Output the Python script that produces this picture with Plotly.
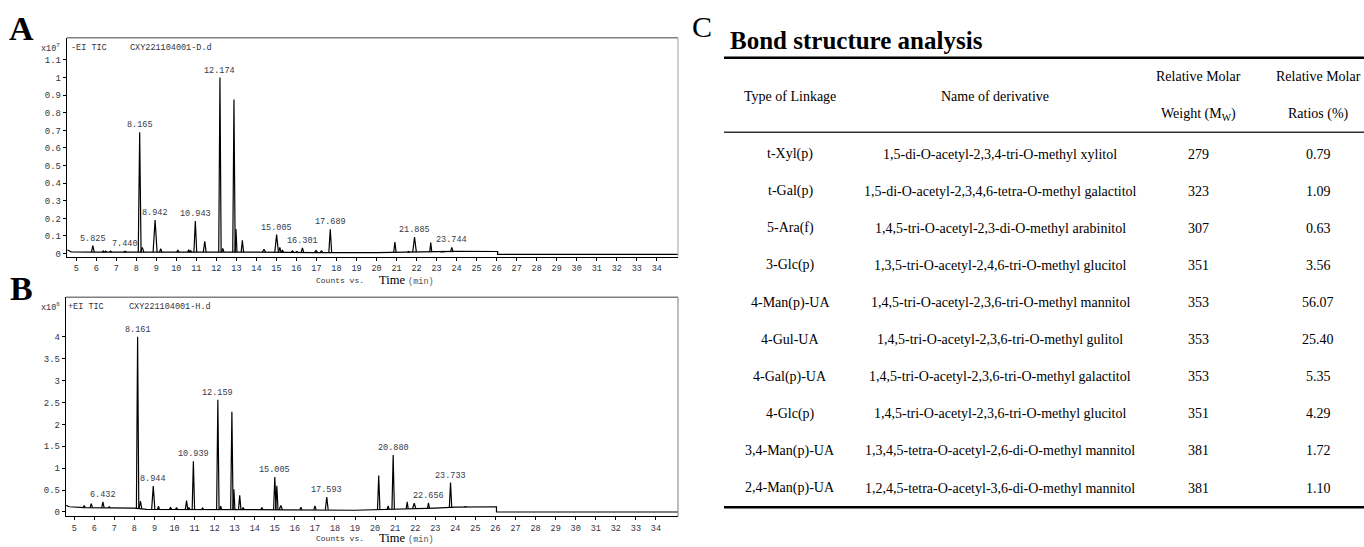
import plotly.graph_objects as go

W, H = 1364, 547
MONO = "Liberation Mono"
SERIF = "Liberation Serif"
TICKC = "#333340"

# ---------------- Chromatogram A (x10^7 counts) ----------------
A_base_t = [4.56, 4.75, 6.0, 8.0, 10.0, 14.0, 17.0, 20.0, 23.0, 24.0, 26.05, 26.05, 35.06]
A_base_y = [0.02, 0.01, 0.008, 0.009, 0.006, 0.008, 0.006, 0.006, 0.011, 0.013, 0.012, -0.005, -0.005]
A_peak_t = [5.83, 6.35, 6.47, 6.72, 7.44, 8.17, 8.30, 8.94, 9.22, 10.08, 10.62, 10.72, 10.95, 11.42,
            12.18, 12.32, 12.88, 12.98, 13.30, 14.38, 15.01, 15.17, 15.30, 15.80, 16.02, 16.30,
            16.98, 17.25, 17.69, 20.92, 21.60, 21.90, 22.71, 23.30, 23.76]
A_peak_h = [0.045, 0.015, 0.014, 0.014, 0.014, 0.69, 0.035, 0.19, 0.028, 0.018, 0.022, 0.016, 0.185, 0.07,
            1.0, 0.03, 0.875, 0.14, 0.075, 0.025, 0.108, 0.035, 0.02, 0.015, 0.012, 0.032,
            0.018, 0.015, 0.138, 0.066, 0.012, 0.094, 0.062, 0.012, 0.035]
A_peak_w = [0.07, 0.05, 0.05, 0.05, 0.07, 0.07, 0.08, 0.10, 0.06, 0.06, 0.06, 0.05, 0.07, 0.07,
            0.06, 0.06, 0.06, 0.05, 0.06, 0.08, 0.09, 0.06, 0.06, 0.06, 0.05, 0.06,
            0.07, 0.06, 0.07, 0.06, 0.05, 0.09, 0.05, 0.10, 0.07]
A_peak_b = [0.008] * len(A_peak_t)
A_label_text = ["5.825", "7.440", "8.165", "8.942", "10.943", "12.174", "15.005", "16.301", "17.689", "21.885", "23.744"]
A_label_idx = [0, 4, 5, 7, 12, 14, 20, 25, 28, 31, 34]
A_ytick_vals = [0, 0.1, 0.2, 0.3, 0.4, 0.5, 0.6, 0.7, 0.8, 0.9, 1.0, 1.1]
A_ytick_text = ["0", "0.1", "0.2", "0.3", "0.4", "0.5", "0.6", "0.7", "0.8", "0.9", "1", "1.1"]

# ---------------- Chromatogram B (x10^6 counts) ----------------
B_base_t = [4.6, 4.75, 5.5, 7.0, 8.0, 8.6, 12.0, 15.5, 19.0, 20.0, 21.0, 23.0, 24.0, 25.0, 26.05, 26.05, 35.1]
B_base_y = [0.15, 0.12, 0.10, 0.10, 0.09, 0.06, 0.06, 0.05, 0.04, 0.05, 0.07, 0.09, 0.11, 0.12, 0.12, 0.0, 0.0]
B_peak_t = [5.50, 5.85, 6.43, 6.75, 8.16, 8.30, 8.94, 9.20, 9.80, 10.10, 10.60, 10.72, 10.94, 11.40,
            12.16, 12.30, 12.86, 12.96, 13.25, 13.42, 14.35, 15.00, 15.10, 15.30, 16.30, 17.00,
            17.59, 20.18, 20.65, 20.90, 21.60, 21.95, 22.66, 23.76, 24.50]
B_peak_h = [0.15, 0.19, 0.23, 0.12, 4.0, 0.25, 0.59, 0.13, 0.10, 0.10, 0.26, 0.10, 1.16, 0.09,
            2.56, 0.13, 2.29, 0.52, 0.38, 0.10, 0.10, 0.80, 0.60, 0.15, 0.11, 0.14,
            0.34, 0.83, 0.14, 1.30, 0.23, 0.20, 0.21, 0.67, 0.12]
B_peak_w = [0.05, 0.06, 0.06, 0.05, 0.06, 0.07, 0.08, 0.05, 0.06, 0.05, 0.06, 0.05, 0.06, 0.05,
            0.06, 0.05, 0.06, 0.05, 0.06, 0.05, 0.05, 0.06, 0.06, 0.08, 0.05, 0.06,
            0.07, 0.06, 0.05, 0.06, 0.05, 0.08, 0.05, 0.06, 0.06]
B_peak_b = [0.10, 0.10, 0.10, 0.10, 0.09, 0.07, 0.06, 0.06, 0.06, 0.06, 0.06, 0.06, 0.06, 0.06,
            0.06, 0.06, 0.06, 0.06, 0.06, 0.06, 0.05, 0.05, 0.05, 0.05, 0.05, 0.05,
            0.05, 0.05, 0.06, 0.06, 0.07, 0.08, 0.08, 0.10, 0.12]
B_label_text = ["6.432", "8.161", "8.944", "10.939", "12.159", "15.005", "17.593", "20.880", "22.656", "23.733"]
B_label_idx = [2, 4, 6, 12, 14, 21, 26, 29, 32, 33]
B_ytick_vals = [0, 0.5, 1, 1.5, 2, 2.5, 3, 3.5, 4]
B_ytick_text = ["0", "0.5", "1", "1.5", "2", "2.5", "3", "3.5", "4"]

X_ticks = list(range(5, 35))

# ---------------- Table C ----------------
linkage = ["t-Xyl(p)", "t-Gal(p)", "5-Ara(f)", "3-Glc(p)", "4-Man(p)-UA", "4-Gul-UA",
           "4-Gal(p)-UA", "4-Glc(p)", "3,4-Man(p)-UA", "2,4-Man(p)-UA"]
derivative = ["1,5-di-O-acetyl-2,3,4-tri-O-methyl xylitol",
              "1,5-di-O-acetyl-2,3,4,6-tetra-O-methyl galactitol",
              "1,4,5-tri-O-acetyl-2,3-di-O-methyl arabinitol",
              "1,3,5-tri-O-acetyl-2,4,6-tri-O-methyl glucitol",
              "1,4,5-tri-O-acetyl-2,3,6-tri-O-methyl mannitol",
              "1,4,5-tri-O-acetyl-2,3,6-tri-O-methyl gulitol",
              "1,4,5-tri-O-acetyl-2,3,6-tri-O-methyl galactitol",
              "1,4,5-tri-O-acetyl-2,3,6-tri-O-methyl glucitol",
              "1,3,4,5-tetra-O-acetyl-2,6-di-O-methyl mannitol",
              "1,2,4,5-tetra-O-acetyl-3,6-di-O-methyl mannitol"]
mol_weight = ["279", "323", "307", "351", "353", "353", "353", "351", "381", "381"]
molar_ratio = ["0.79", "1.09", "0.63", "3.56", "56.07", "25.40", "5.35", "4.29", "1.72", "1.10"]


def px(x):
    return x / W


def py(y):
    return 1 - y / H


def peak_path(ts, hs, ws, bs):
    xs, ys = [], []
    for t, h, w, b in zip(ts, hs, ws, bs):
        xs += [t - w, t, t + w, None]
        ys += [b, h, b, None]
    return xs, ys


fig = go.Figure()
line = dict(color="black", width=1.2)

fig.add_trace(go.Scatter(x=A_base_t, y=A_base_y, mode="lines", line=line, xaxis="x", yaxis="y", hoverinfo="skip"))
ax, ay = peak_path(A_peak_t, A_peak_h, A_peak_w, A_peak_b)
fig.add_trace(go.Scatter(x=ax, y=ay, mode="lines", line=line, xaxis="x", yaxis="y", hoverinfo="skip"))

fig.add_trace(go.Scatter(x=B_base_t, y=B_base_y, mode="lines", line=line, xaxis="x2", yaxis="y2", hoverinfo="skip"))
bx, by = peak_path(B_peak_t, B_peak_h, B_peak_w, B_peak_b)
fig.add_trace(go.Scatter(x=bx, y=by, mode="lines", line=line, xaxis="x2", yaxis="y2", hoverinfo="skip"))

annotations = []
lab_font = dict(family=MONO, size=8.5, color="#3a3a48")
for txt, i in zip(A_label_text, A_label_idx):
    annotations.append(dict(x=A_peak_t[i], y=A_peak_h[i], xref="x", yref="y", text=txt, showarrow=False,
                            xanchor="center", yanchor="bottom", yshift=0, font=lab_font))
for txt, i in zip(B_label_text, B_label_idx):
    annotations.append(dict(x=B_peak_t[i], y=B_peak_h[i], xref="x2", yref="y2", text=txt, showarrow=False,
                            xanchor="center", yanchor="bottom", yshift=0, font=lab_font))


def ptext(x, y, text, size, family, color="black", xanchor="left", bold=False):
    if bold:
        text = "<b>" + text + "</b>"
    annotations.append(dict(x=px(x), y=py(y), xref="paper", yref="paper", text=text, showarrow=False,
                            xanchor=xanchor, yanchor="middle", borderpad=0,
                            font=dict(family=family, size=size, color=color)))


# panel letters
ptext(8, 29, "A", 34, SERIF, bold=True)
ptext(9, 290, "B", 34, SERIF, bold=True)
ptext(691, 27, "C", 30, SERIF)
ptext(729, 41, "Bond structure analysis", 25, SERIF, bold=True)

# chromatogram headers
ptext(40, 48, "x10<sup>7</sup>", 8.5, MONO, TICKC)
ptext(70, 48, "-EI TIC", 8.5, MONO, TICKC)
ptext(129, 48, "CXY221104001-D.d", 8.5, MONO, TICKC)
ptext(40, 309, "x10<sup>6</sup>", 8.5, MONO, TICKC)
ptext(67, 309, "+EI TIC", 8.5, MONO, TICKC)
ptext(128, 309, "CXY221104001-H.d", 8.5, MONO, TICKC)

# axis titles
for yy in (282, 541):
    ptext(315, yy, "Counts vs.", 8, MONO, TICKC)
    ptext(378, yy, "Time <span style='font-size:8.5px;font-family:Liberation Mono;color:#555'>(min)</span>",
          12.5, SERIF)

# table
col_x = [790, 995, 1198, 1318]
ptext(col_x[0], 97, "Type of Linkage", 14, SERIF, xanchor="center")
ptext(col_x[1], 97, "Name of derivative", 14, SERIF, xanchor="center")
ptext(col_x[2], 77, "Relative Molar", 14, SERIF, xanchor="center")
ptext(col_x[2], 115, "Weight (M<sub>W</sub>)", 14, SERIF, xanchor="center")
ptext(col_x[3], 77, "Relative Molar", 14, SERIF, xanchor="center")
ptext(col_x[3], 115, "Ratios (%)", 14, SERIF, xanchor="center")
row0, pitch = 155, 37.3
for r, vals in enumerate(zip(linkage, derivative, mol_weight, molar_ratio)):
    for c, v in enumerate(vals):
        ptext(col_x[c] + (5 if c == 1 else 0), row0 + r * pitch, v, 14, SERIF, xanchor="center")

shapes = []


def hline(x0, x1, y, color, width):
    shapes.append(dict(type="line", xref="paper", yref="paper", x0=px(x0), x1=px(x1), y0=py(y), y1=py(y),
                       line=dict(color=color, width=width)))


def vline(x, y0, y1, color, width):
    shapes.append(dict(type="line", xref="paper", yref="paper", x0=px(x), x1=px(x), y0=py(y0), y1=py(y1),
                       line=dict(color=color, width=width)))


B_TOP, B_BOT = 299, 519
# chromatogram frames (top / right)
hline(67, 678, 38, "#808080", 1.5)
vline(678, 38, 258, "#b0b0b0", 1.2)
hline(66, 678, B_TOP, "#808080", 1.5)
vline(678, B_TOP, B_BOT, "#909090", 1.2)
# table rules
hline(724, 1364, 58, "black", 2.5)
hline(724, 1364, 133, "#333333", 1.3)
hline(724, 1364, 510, "black", 2.5)

xax = dict(showgrid=False, zeroline=False, showline=True, linecolor="black", linewidth=1.4,
           ticks="outside", ticklen=3, tickcolor="black", tickwidth=1, tickvals=X_ticks,
           tickfont=dict(family=MONO, size=8.5, color=TICKC))
yax = dict(showgrid=False, zeroline=False, showline=True, linecolor="black", linewidth=1.4,
           ticks="outside", ticklen=3, tickcolor="black", tickwidth=1,
           tickfont=dict(family=MONO, size=9, color=TICKC))

fig.update_layout(
    width=W, height=H, margin=dict(l=0, r=0, t=0, b=0),
    paper_bgcolor="white", plot_bgcolor="white", showlegend=False,
    xaxis=dict(xax, domain=[px(67), px(678)], range=[4.54, 35.06], anchor="y"),
    yaxis=dict(yax, domain=[py(258), py(38)], range=[-0.017, 1.226], anchor="x",
               tickvals=A_ytick_vals, ticktext=A_ytick_text),
    xaxis2=dict(xax, domain=[px(66), px(678)], range=[4.59, 35.1], anchor="y2"),
    yaxis2=dict(yax, domain=[py(B_BOT), py(B_TOP)], range=[-0.095, 4.9], anchor="x2",
                tickvals=B_ytick_vals, ticktext=B_ytick_text),
    annotations=annotations, shapes=shapes,
)

fig.write_html("out.html")
